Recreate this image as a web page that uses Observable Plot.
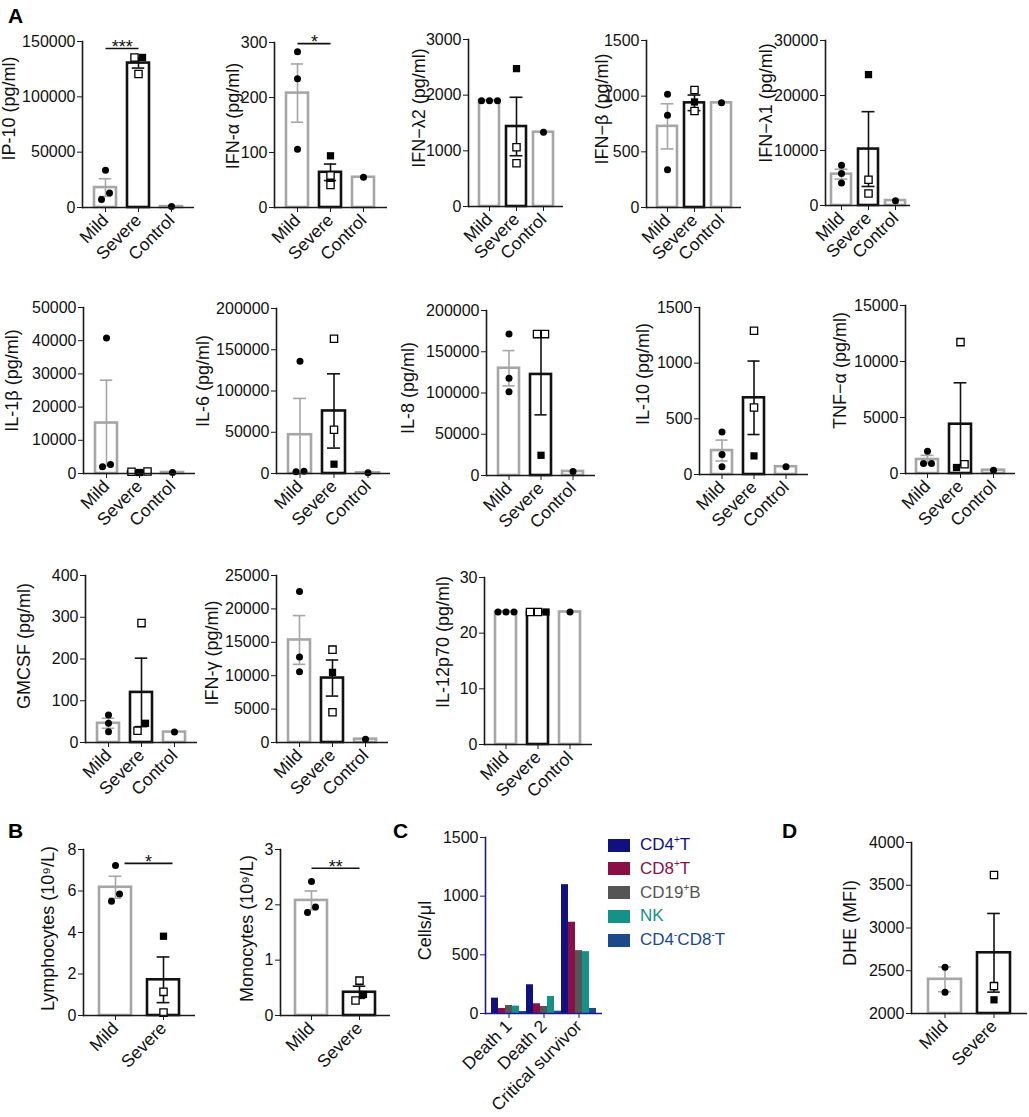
<!DOCTYPE html>
<html><head><meta charset="utf-8">
<script src="https://cdn.jsdelivr.net/npm/d3@7"></script>
<script src="https://cdn.jsdelivr.net/npm/@observablehq/plot@0.6"></script>
<style>
html,body{margin:0;padding:0;background:#fff;}
#root{position:relative;width:1029px;height:1117px;font-family:"Liberation Sans",Arial,sans-serif;overflow:hidden;background:#fff;}
.letter{position:absolute;font-weight:bold;font-size:21px;line-height:1;color:#000;}
.lg{position:absolute;display:flex;align-items:center;font-size:17px;height:24px;white-space:nowrap;}
.lg .sw{width:22px;height:13px;margin-right:10px;}
.lg sup{font-size:10px;vertical-align:7px;line-height:0;}
</style></head><body><div id="root"></div><script>
// ---------- data ----------
const GROUPS3 = ["Mild", "Severe", "Control"];
const GROUPS2 = ["Mild", "Severe"];

const ip10Mean = [18000, 130500, 800], ip10Sem = [8000, 4500];
const ip10Mild = [33600, 7200, 13200], ip10Severe = [135600, 135600, 120600], ip10Open = [true, false, true], ip10Control = [800];

const ifnaMean = [208, 64, 55], ifnaSem = [53, 15];
const ifnaMild = [283, 234, 106], ifnaSevere = [94, 58, 41], ifnaOpen = [false, true, true], ifnaControl = [55];

const ifnl2Mean = [1900, 1437, 1335], ifnl2Sem = [0, 525];
const ifnl2Mild = [1900, 1900, 1900], ifnl2Severe = [2477, 1064, 776], ifnl2Open = [false, true, true], ifnl2Control = [1335];

const ifnbMean = [729, 940, 940], ifnbSem = [203, 70];
const ifnbMild = [1017, 828, 339], ifnbSevere = [1056, 948, 866], ifnbOpen = [true, false, true], ifnbControl = [940];

const ifnl1Mean = [5700, 10260, 900], ifnl1Sem = [900, 6800];
const ifnl1Mild = [7300, 5800, 4100], ifnl1Severe = [23800, 4680, 2190], ifnl1Open = [false, true, true], ifnl1Control = [850];

const il1bMean = [15200, 450, 300], il1bSem = [12900, 80];
const il1bMild = [40800, 2000, 2700], il1bSevere = [500, 300, 600], il1bOpen = [true, false, true], il1bControl = [300];

const il6Mean = [47000, 75800, 800], il6Sem = [44000, 45000];
const il6Mild = [136000, 2000, 2800], il6Severe = [163400, 53100, 11300], il6Open = [true, true, false], il6Control = [800];

const il8Mean = [130000, 122500, 4900], il8Sem = [21400, 49000];
const il8Mild = [171400, 118000, 101600], il8Severe = [171400, 171400, 24500], il8Open = [true, true, false], il8Control = [4900];

const il10Mean = [215, 689, 70], il10Sem = [94, 330];
const il10Mild = [382, 179, 69], il10Severe = [1291, 602, 167], il10Open = [true, true, false], il10Control = [70];

const tnfMean = [1250, 4400, 300], tnfSem = [370, 3700];
const tnfMild = [1990, 890, 890], tnfSevere = [11730, 535, 830], tnfOpen = [true, false, true], tnfControl = [300];

const gmMean = [46, 120, 25], gmSem = [12, 82];
const gmMild = [66, 46, 26], gmSevere = [286, 28, 46], gmOpen = [true, true, false], gmControl = [25];

const ifngMean = [15350, 9650, 500], ifngSem = [3650, 2700];
const ifngMild = [22600, 12800, 10600], ifngSevere = [13900, 10500, 4540], ifngOpen = [true, false, true], ifngControl = [500];

const il12Mean = [23.8, 23.8, 23.8], il12Sem = [0, 0];
const il12Mild = [23.8, 23.8, 23.8], il12Severe = [23.8, 23.8, 23.8], il12Open = [true, true, false], il12Control = [23.8];

const lymMean = [6.18, 1.72], lymSem = [0.53, 1.1];
const lymMild = [7.23, 5.51, 5.86], lymSevere = [3.82, 1.14, 0.14], lymOpen = [false, true, true];

const monoMean = [2.08, 0.42], monoSem = [0.17, 0.11];
const monoMild = [2.42, 1.86, 1.96], monoSevere = [0.63, 0.27, 0.38], monoOpen = [true, true, false];

const dheMean = [2400, 2710], dheSem = [145, 460];
const dheMild = [2540, 2250], dheSevere = [3620, 2320, 2160], dheOpen = [true, true, false];

const cGroups = ["Death 1", "Death 2", "Critical survivor"];
const cSeries = ["CD4+T", "CD8+T", "CD19+B", "NK", "CD4-CD8-T"];
const cColors = ["#10107e", "#8a0f47", "#555555", "#15918a", "#1b4a8c"];
const cCD4 = [131, 245, 1098];
const cCD8 = [43, 83, 778];
const cCD19 = [68, 60, 536];
const cNK = [63, 145, 527];
const cDN = [17, 20, 43];

// ---------- helpers ----------
const root = document.getElementById("root");
const GRAY = "#a6a6a6", BLACK = "#111111", AXIS = "#1a1a1a";
const FONT = "Liberation Sans, Arial, sans-serif";

function offsets(vals, ppu) {
  const n = vals.length, off = new Array(n).fill(0);
  const sorted = d3.range(n).sort((a, b) => vals[a] - vals[b] || a - b);
  const clusters = []; let cur = [sorted[0]];
  for (let k = 1; k < n; k++) {
    if (Math.abs(vals[sorted[k]] - vals[sorted[k - 1]]) * ppu < 8) cur.push(sorted[k]);
    else { clusters.push(cur); cur = [sorted[k]]; }
  }
  clusters.push(cur);
  for (const c of clusters) {
    const cs = c.slice().sort((a, b) => a - b);
    cs.forEach((i, j) => off[i] = (j - (cs.length - 1) / 2) * 8);
  }
  return off;
}

function place(svg, left, top) {
  svg.style.position = "absolute";
  svg.style.left = left + "px";
  svg.style.top = top + "px";
  svg.style.maxWidth = "none";
  root.appendChild(svg);
}

function yLabel(text, off, dy) {
  return Plot.text([text], {frameAnchor: "left", textAnchor: "middle", lineAnchor: "middle", rotate: -90, dx: -off, dy: dy || 0, fontSize: 18, text: d => d});
}

function barPanel(c) {
  const ML = 95, MR = 14, MT = 24, MB = 85;
  const groups = c.control ? GROUPS3 : GROUPS2;
  const ymin = c.ymin ?? 0;
  const W = c.R - c.L, H = c.B - c.T;
  const ppu = H / (c.ymax - ymin);
  const step = W / (groups.length - c.pi + 2 * c.po);
  const bw = step * (1 - c.pi);
  const capInset = Math.max(0, (bw - 13) / 2);
  const bars = groups.map((g, i) => ({g, v: c.mean[i]}));
  const errs = GROUPS2.map((g, i) => ({g, lo: c.mean[i] - c.sem[i], hi: c.mean[i] + c.sem[i]})).filter(d => d.hi > d.lo);
  const pts = [];
  const add = (g, vals, opens) => {
    const off = offsets(vals, ppu);
    vals.forEach((v, i) => pts.push({g, v, off: off[i], shape: g === "Severe" ? "square" : "circle", open: opens ? opens[i] : false}));
  };
  add("Mild", c.mild); add("Severe", c.severe, c.open); if (c.control) add("Control", c.control);

  const marks = [];
  const colorOf = g => g === "Severe" ? BLACK : GRAY;
  for (const g of groups) {
    marks.push(Plot.barY(bars.filter(d => d.g === g), {x: "g", y1: ymin, y2: "v", fill: "white", stroke: colorOf(g), strokeWidth: 2.6, insetLeft: 0, insetRight: 0}));
  }
  for (const g of GROUPS2) {
    const e = errs.filter(d => d.g === g);
    if (!e.length) continue;
    const col = colorOf(g);
    marks.push(Plot.ruleX(e, {x: "g", y1: "lo", y2: "hi", stroke: col, strokeWidth: 1.6}));
    marks.push(Plot.tickY(e, {x: "g", y: "hi", stroke: col, strokeWidth: 1.6, insetLeft: capInset, insetRight: capInset}));
    marks.push(Plot.tickY(e, {x: "g", y: "lo", stroke: col, strokeWidth: 1.6, insetLeft: capInset, insetRight: capInset}));
  }
  const keyed = d3.group(pts, d => `${d.off}|${d.shape}|${d.open}`);
  for (const [k, rows] of keyed) {
    const {off, shape, open} = rows[0];
    marks.push(Plot.dot(rows, {x: "g", y: "v", dx: off, symbol: shape, r: shape === "square" ? 4.1 : 3.5,
      fill: open ? "white" : "black", stroke: open ? "black" : "none", strokeWidth: 1.3}));
  }
  if (c.sig) {
    const s = c.sig;
    marks.push(Plot.link([s], {x1: () => "Mild", x2: () => "Severe", y1: d => d.y, y2: d => d.y, stroke: BLACK, strokeWidth: 1.6, dx: s.dx || 0}));
    marks.push(Plot.text([s], {x: () => "Mild", y: d => d.y, text: d => d.text, dx: step / 2 + (s.dx || 0), dy: -1, fontSize: 18}));
  }
  marks.push(Plot.ruleY([ymin], {stroke: AXIS, strokeWidth: 1.6}));
  marks.push(Plot.frame({anchor: "left", stroke: AXIS, strokeWidth: 1.6}));
  marks.push(Plot.axisY({ticks: c.ticks, tickSize: 5, tickPadding: 2, tickFormat: d => String(d), fontSize: 16, label: null, stroke: AXIS}));
  marks.push(Plot.axisX({tickSize: 5, tickPadding: 5, tickRotate: -45, fontSize: 17.5, label: null, stroke: AXIS}));
  marks.push(yLabel(c.label, c.labelOff, c.labelDy));

  const svg = Plot.plot({
    width: ML + W + MR, height: MT + H + MB,
    marginLeft: ML, marginRight: MR, marginTop: MT, marginBottom: MB,
    x: {domain: groups, paddingInner: c.pi, paddingOuter: c.po, align: 0.5},
    y: {domain: [ymin, c.ymax]},
    style: {fontFamily: FONT, fontSize: "16px", background: "transparent", overflow: "visible", color: "#111"},
    marks
  });
  place(svg, c.L - ML, c.T - MT);
}

// ---------- panels A ----------
const P33 = {pi: 0.33, po: 0.33};
barPanel({L: 82, R: 194, T: 41, B: 207, ...P33, ymax: 150000, ticks: [0, 50000, 100000, 150000], label: "IP-10 (pg/ml)", labelOff: 73, labelDy: -16,
  mean: ip10Mean, sem: ip10Sem, mild: ip10Mild, severe: ip10Severe, open: ip10Open, control: ip10Control, sig: {y: 143700, text: "***"}});
barPanel({L: 274, R: 387, T: 42, B: 207, ...P33, ymax: 300, ticks: [0, 100, 200, 300], label: "IFN-α (pg/ml)", labelOff: 41, labelDy: -9,
  mean: ifnaMean, sem: ifnaSem, mild: ifnaMild, severe: ifnaSevere, open: ifnaOpen, control: ifnaControl, sig: {y: 298, text: "*"}});
barPanel({L: 468, R: 563, T: 39, B: 206, pi: 0.27, po: 0.36, ymax: 3000, ticks: [0, 1000, 2000, 3000], label: "IFN−λ2 (pg/ml)", labelOff: 49, labelDy: -15,
  mean: ifnl2Mean, sem: ifnl2Sem, mild: ifnl2Mild, severe: ifnl2Severe, open: ifnl2Open, control: ifnl2Control});
barPanel({L: 646, R: 741, T: 40, B: 207, pi: 0.27, po: 0.36, ymax: 1500, ticks: [0, 500, 1000, 1500], label: "IFN−β (pg/ml)", labelOff: 44, labelDy: -15,
  mean: ifnbMean, sem: ifnbSem, mild: ifnbMild, severe: ifnbSevere, open: ifnbOpen, control: ifnbControl});
barPanel({L: 825, R: 910, T: 40, B: 205, pi: 0.27, po: 0.18, ymax: 30000, ticks: [0, 10000, 20000, 30000], label: "IFN−λ1 (pg/ml)", labelOff: 59, labelDy: -20,
  mean: ifnl1Mean, sem: ifnl1Sem, mild: ifnl1Mild, severe: ifnl1Severe, open: ifnl1Open, control: ifnl1Control});

barPanel({L: 83, R: 195, T: 307, B: 473, ...P33, ymax: 50000, ticks: [0, 10000, 20000, 30000, 40000, 50000], label: "IL-1β (pg/ml)", labelOff: 71, labelDy: -10,
  mean: il1bMean, sem: il1bSem, mild: il1bMild, severe: il1bSevere, open: il1bOpen, control: il1bControl});
barPanel({L: 276, R: 390, T: 308, B: 473, ...P33, ymax: 200000, ticks: [0, 50000, 100000, 150000, 200000], label: "IL-6 (pg/ml)", labelOff: 73, labelDy: -10,
  mean: il6Mean, sem: il6Sem, mild: il6Mild, severe: il6Severe, open: il6Open, control: il6Control});
barPanel({L: 486, R: 595, T: 310, B: 475, ...P33, ymax: 200000, ticks: [0, 50000, 100000, 150000, 200000], label: "IL-8 (pg/ml)", labelOff: 78, labelDy: -5,
  mean: il8Mean, sem: il8Sem, mild: il8Mild, severe: il8Severe, open: il8Open, control: il8Control});
barPanel({L: 699, R: 808, T: 307, B: 474, ...P33, ymax: 1500, ticks: [0, 500, 1000, 1500], label: "IL-10 (pg/ml)", labelOff: 56, labelDy: -17,
  mean: il10Mean, sem: il10Sem, mild: il10Mild, severe: il10Severe, open: il10Open, control: il10Control});
barPanel({L: 905, R: 1015, T: 305, B: 473, ...P33, ymax: 15000, ticks: [0, 5000, 10000, 15000], label: "TNF−α (pg/ml)", labelOff: 65, labelDy: -19,
  mean: tnfMean, sem: tnfSem, mild: tnfMild, severe: tnfSevere, open: tnfOpen, control: tnfControl});

barPanel({L: 85, R: 197, T: 575, B: 742, ...P33, ymax: 400, ticks: [0, 100, 200, 300, 400], label: "GMCSF (pg/ml)", labelOff: 61, labelDy: -13,
  mean: gmMean, sem: gmSem, mild: gmMild, severe: gmSevere, open: gmOpen, control: gmControl});
barPanel({L: 276, R: 388, T: 575, B: 742, ...P33, ymax: 25000, ticks: [0, 5000, 10000, 15000, 20000, 25000], label: "IFN-γ (pg/ml)", labelOff: 64, labelDy: -6,
  mean: ifngMean, sem: ifngSem, mild: ifngMild, severe: ifngSevere, open: ifngOpen, control: ifngControl});
barPanel({L: 484, R: 592, T: 577, B: 744, ...P33, ymax: 30, ticks: [0, 10, 20, 30], label: "IL-12p70 (pg/ml)", labelOff: 41, labelDy: -19,
  mean: il12Mean, sem: il12Sem, mild: il12Mild, severe: il12Severe, open: il12Open, control: il12Control});

// ---------- panels B ----------
barPanel({L: 83, R: 195, T: 849, B: 1015, ...P33, ymax: 8, ticks: [0, 2, 4, 6, 8], label: "Lymphocytes (10⁹/L)", labelOff: 35, labelDy: -4,
  mean: lymMean, sem: lymSem, mild: lymMild, severe: lymSevere, open: lymOpen, sig: {y: 7.33, text: "*", dx: 9}});
barPanel({L: 280, R: 390, T: 849, B: 1015, pi: 0.33, po: 0.3, ymax: 3, ticks: [0, 1, 2, 3], label: "Monocytes (10⁹/L)", labelOff: 33, labelDy: -4,
  mean: monoMean, sem: monoSem, mild: monoMild, severe: monoSevere, open: monoOpen, sig: {y: 2.66, text: "**"}});

// ---------- panel D ----------
barPanel({L: 911, R: 1027, T: 842, B: 1013, ...P33, ymin: 2000, ymax: 4000, ticks: [2000, 2500, 3000, 3500, 4000], label: "DHE (MFI)", labelOff: 61, labelDy: -5,
  mean: dheMean, sem: dheSem, mild: dheMild, severe: dheSevere, open: dheOpen});

// ---------- panel C ----------
(function () {
  const L = 485, R = 602, T = 837, B = 1013;
  const ML = 95, MR = 10, MT = 24, MB = 110;
  const NAVY = "#1c1c8c";
  const seriesVals = [cCD4, cCD8, cCD19, cNK, cDN];
  const rows = [];
  cGroups.forEach((g, gi) => cSeries.forEach((s, si) => rows.push({key: g + "|" + s, g, s, v: seriesVals[si][gi]})));
  const keys = rows.map(d => d.key);
  const svg = Plot.plot({
    width: ML + (R - L) + MR, height: MT + (B - T) + MB,
    marginLeft: ML, marginRight: MR, marginTop: MT, marginBottom: MB,
    x: {domain: keys, padding: 0},
    y: {domain: [0, 1500]},
    color: {domain: cSeries, range: cColors},
    style: {fontFamily: FONT, fontSize: "16px", background: "transparent", overflow: "visible", color: "#111"},
    marks: [
      Plot.barY(rows, {x: "key", y: "v", fill: "s", insetLeft: 0, insetRight: 0}),
      Plot.ruleY([0], {stroke: NAVY, strokeWidth: 1.6}),
      Plot.frame({anchor: "left", stroke: NAVY, strokeWidth: 1.6}),
      Plot.axisY({ticks: [0, 500, 1000, 1500], tickSize: 5, tickPadding: 2, tickFormat: d => String(d), fontSize: 16, label: null, stroke: NAVY}),
      Plot.axisX({ticks: cGroups.map(g => g + "|" + cSeries[2]), tickFormat: k => k.split("|")[0], tickSize: 5, tickPadding: 5, tickRotate: -45, fontSize: 17.5, label: null, stroke: NAVY}),
      yLabel("Cells/μl", 60, 5)
    ]
  });
  place(svg, L - ML, T - MT);
  // legend
  cSeries.forEach((s, i) => {
    const div = document.createElement("div");
    div.className = "lg";
    div.style.left = "608px";
    div.style.top = (833 + i * 23.8) + "px";
    div.style.color = cColors[i];
    div.innerHTML = `<span class="sw" style="background:${cColors[i]}"></span><span>${s.replace(/([+-])/g, "<sup>$1</sup>")}</span>`;
    root.appendChild(div);
  });
})();

// ---------- panel letters ----------
[["A", 8, 5], ["B", 8, 820], ["C", 393, 820], ["D", 782, 820]].forEach(([t, x, y]) => {
  const d = document.createElement("div");
  d.className = "letter"; d.textContent = t;
  d.style.left = x + "px"; d.style.top = y + "px";
  root.appendChild(d);
});
</script></body></html>
